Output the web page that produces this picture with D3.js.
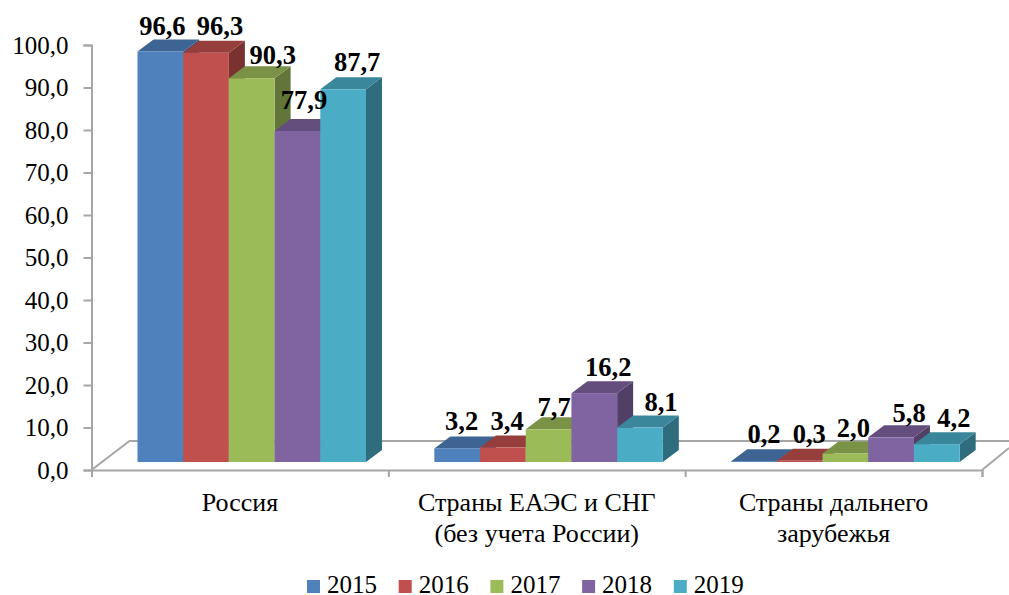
<!DOCTYPE html>
<html>
<head>
<meta charset="utf-8">
<script src="https://cdn.jsdelivr.net/npm/d3@7"></script>
<style>
  html, body { margin: 0; padding: 0; background: #fff; }
  svg { display: block; }
  text { font-family: "Liberation Serif", serif; fill: #000; }
</style>
</head>
<body>
<svg width="1009" height="595"></svg>
<script>
const categories = [["Россия"], ["Страны ЕАЭС и СНГ", "(без учета России)"], ["Страны дальнего", "зарубежья"]];
const years = ["2015", "2016", "2017", "2018", "2019"];
const values2015 = [96.6, 3.2, 0.2];
const values2016 = [96.3, 3.4, 0.3];
const values2017 = [90.3, 7.7, 2.0];
const values2018 = [77.9, 16.2, 5.8];
const values2019 = [87.7, 8.1, 4.2];
const series = [values2015, values2016, values2017, values2018, values2019];
const colors = ["#4f81bd", "#c0504d", "#9bbb59", "#8064a2", "#4bacc6"];
const yTicks = [0, 10, 20, 30, 40, 50, 60, 70, 80, 90, 100];

// hand placed label nudges from the original chart [dx, dy], by series then category
const nudges = [
  [[-6, -1.5], [-3.5, -3.4], [2, -3]],
  [[6, -3], [-3.7, -2.6], [1.5, -2.7]],
  [[13, 1], [-2.4, 1.7], [0, -1.5]],
  [[-1.5, -7], [6, -2.2], [10, 0]],
  [[6, -3], [13, -1.6], [9, -2]]
];

const svg = d3.select("svg");
const axisColor = "#a6a6a6";

const y = d3.scaleLinear().domain([0, 100]).range([470, 45]);
const xCat = d3.scaleLinear().domain([0, 3]).range([91.5, 982]);
const x = d3.scaleBand().domain(d3.range(5)).range([46, 274.5]);

// 3d offsets
const barDx = 16, barDy = -12, barLift = -8;
const floorDx = 38, floorDy = -29;

const floor = svg.append("g").attr("fill", "none").attr("stroke", axisColor).attr("stroke-width", 2);
floor.append("path").attr("d", `M${xCat(0)},${y(0)}L${xCat(0) + floorDx},${y(0) + floorDy}H1009`);
floor.append("path").attr("d", `M${xCat(3)},${y(0)}L1009,${y(0) - 22}`);

const yAxis = svg.append("g")
  .attr("transform", `translate(${xCat(0)},0)`)
  .call(d3.axisLeft(y).tickValues(yTicks).tickSize(8).tickPadding(15)
    .tickFormat(d => d3.format(".1f")(d).replace(".", ",")));
yAxis.selectAll("text").attr("font-size", 25).style("font-family", '"Liberation Serif", serif');

const xAxis = svg.append("g")
  .attr("transform", `translate(0,${y(0)})`)
  .call(d3.axisBottom(xCat).tickValues([0, 1, 2, 3]).tickSize(7).tickFormat(""));

svg.selectAll(".domain, .tick line").attr("stroke", axisColor).attr("stroke-width", 2);

const bars = [];
series.forEach((vals, s) => {
  vals.forEach((v, c) => bars.push({ s, c, v }));
});

const bar = svg.append("g").selectAll("g")
  .data(bars.sort((a, b) => a.c - b.c || a.s - b.s))
  .enter().append("g");

const barLeft = d => xCat(d.c) + x(d.s);
const barRight = d => barLeft(d) + x.bandwidth();
const barTop = d => y(d.v) + barLift;
const barBase = y(0) + barLift;

bar.append("path")
  .attr("fill", d => d3.color(colors[d.s]).darker(1.3))
  .attr("d", d => `M${barRight(d)},${barTop(d)}l${barDx},${barDy}V${barBase + barDy}L${barRight(d)},${barBase}Z`);
bar.append("path")
  .attr("fill", d => d3.color(colors[d.s]).darker(0.7))
  .attr("d", d => `M${barLeft(d)},${barTop(d)}l${barDx},${barDy}H${barRight(d) + barDx}L${barRight(d)},${barTop(d)}Z`);
bar.append("rect")
  .attr("fill", d => colors[d.s])
  .attr("x", barLeft)
  .attr("y", barTop)
  .attr("width", x.bandwidth())
  .attr("height", d => barBase - barTop(d));

svg.append("g").selectAll("text")
  .data(bars)
  .enter().append("text")
  .attr("text-anchor", "middle")
  .attr("font-weight", "bold")
  .attr("font-size", 26.5)
  .attr("x", d => barLeft(d) + x.bandwidth() / 2 + barDx / 2 + nudges[d.s][d.c][0])
  .attr("y", d => barTop(d) + barDy - 3 + nudges[d.s][d.c][1])
  .text(d => d3.format(".1f")(d.v).replace(".", ","));

const catLabels = svg.append("g").selectAll("text")
  .data(categories)
  .enter().append("text")
  .attr("text-anchor", "middle")
  .attr("font-size", 26)
  .attr("y", 511);
catLabels.selectAll("tspan")
  .data((d, i) => d.map(t => ({ t, i })))
  .enter().append("tspan")
  .attr("x", d => (xCat(d.i) + xCat(d.i + 1)) / 2)
  .attr("dy", (d, j) => j ? 31 : 0)
  .text(d => d.t);

const legend = svg.append("g").selectAll("g")
  .data(years)
  .enter().append("g")
  .attr("transform", (d, i) => `translate(${307 + i * 91.7},0)`);
legend.append("rect")
  .attr("y", 580).attr("width", 13).attr("height", 13)
  .attr("fill", (d, i) => colors[i]);
legend.append("text")
  .attr("x", 20).attr("y", 593)
  .attr("font-size", 25)
  .text(d => d);
</script>
</body>
</html>
